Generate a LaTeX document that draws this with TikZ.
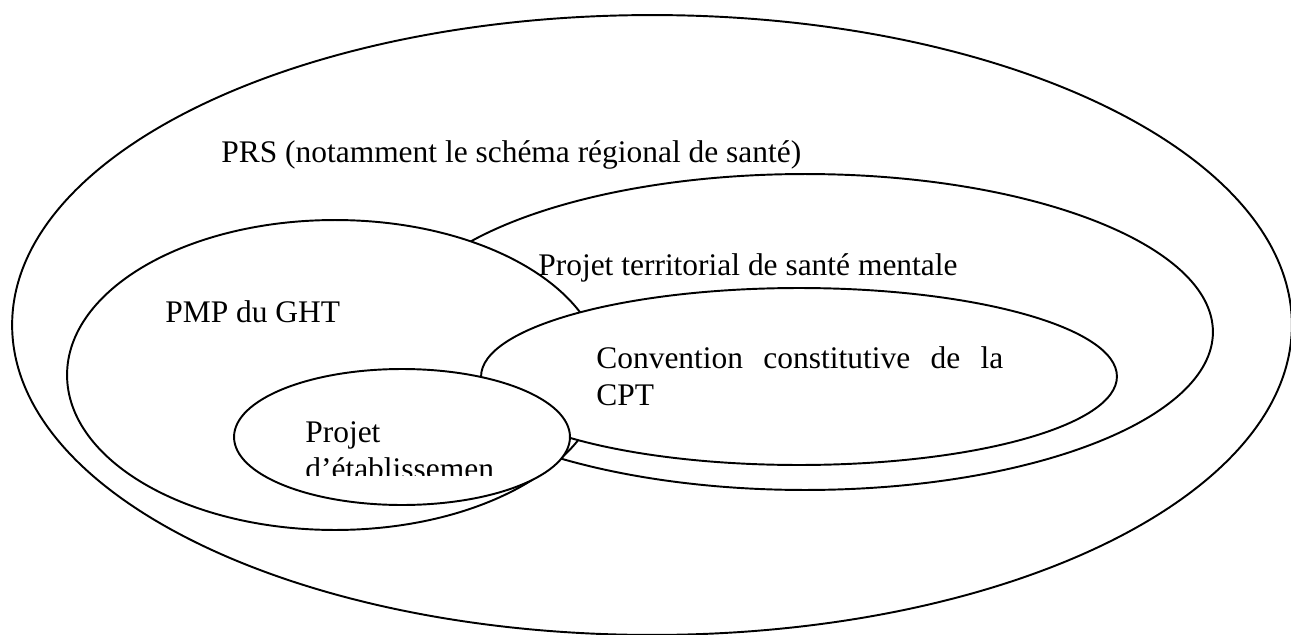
\documentclass[tikz,border=0pt]{standalone}
\usepackage{fontspec}
\setmainfont{Liberation Serif}
\usetikzlibrary{shapes.geometric, positioning}

\begin{document}
\begin{tikzpicture}[
    x=0.02cm, y=-0.02cm,
    zone/.style={ellipse, draw, fill=white, line width=1.1pt, inner sep=0pt},
    lbl/.style={anchor=base west, inner sep=0pt, font=\fontsize{17.9pt}{21pt}\selectfont}
]
\useasboundingbox (0,0) rectangle (1291,635);

% nested ellipses, outermost first
\node [zone, minimum width=25.6cm, minimum height=12.4cm] (prs) at (652,325) {};
\node [zone, minimum width=16.32cm, minimum height=6.32cm] (territoire) at (805,332) {};
\node [zone, minimum width=10.72cm, minimum height=6.2cm] (pmp) at (335,375) {};
\node [zone, minimum width=12.72cm, minimum height=3.54cm] (cpt) at (799,376.5) {};
\node [zone, minimum width=6.72cm, minimum height=2.72cm] (etab) at (402,437) {};

% texts
\node [lbl] (prslbl) at (221,162) {PRS (notamment le schéma régional de santé)};
\node [lbl] (territoirelbl) at (538,275) {Projet territorial de santé mentale};
\node [lbl] (pmplbl) at (165,322) {PMP du GHT};
\node [lbl] (cptlbl) at (596,368) {\makebox[8.14cm][s]{Convention constitutive de la}};
\node [lbl] (cptlblb) at (596,405) {CPT};
\node [lbl] (etablbl) at (305,442) {Projet};
\begin{scope}
\clip (300,410) rectangle (520,475);
\node [lbl] (etablblb) at (305,479) {d’établissemen};
\end{scope}

\end{tikzpicture}
\end{document}
